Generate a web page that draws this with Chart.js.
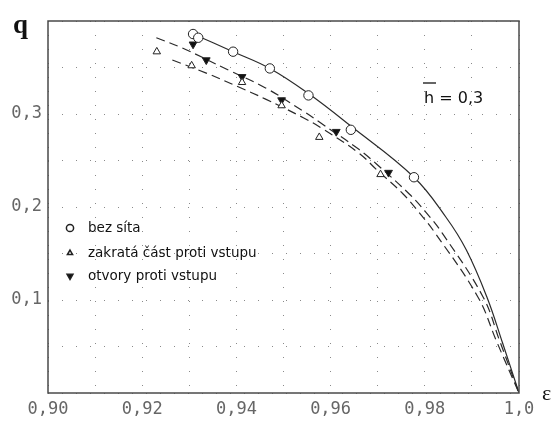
<!DOCTYPE html>
<html>
<head>
<meta charset="utf-8">
<script src="https://cdn.jsdelivr.net/npm/chart.js@4.4.1/dist/chart.umd.min.js"></script>
<style>
  html, body { margin: 0; padding: 0; background: #fff; }
</style>
</head>
<body>
<canvas id="chart" width="557" height="421"></canvas>
<script>
// values: eps on x, q on y

// measured points
const bezSitaEps = [0.9308, 0.9319, 0.9393, 0.9471, 0.9553, 0.9643, 0.9777]
const bezSitaQ = [0.386, 0.382, 0.367, 0.349, 0.320, 0.283, 0.232]

const zakrataEps = [0.9231, 0.9305, 0.9412, 0.9496, 0.9576, 0.9706]
const zakrataQ = [0.367, 0.352, 0.334, 0.309, 0.275, 0.235]

const otvoryEps = [0.9308, 0.9336, 0.9412, 0.9496, 0.9612, 0.9723]
const otvoryQ = [0.375, 0.358, 0.340, 0.315, 0.281, 0.237]

// fitted curves (traced)
const solidEps = [0.9308, 0.9393, 0.9471, 0.9553, 0.9643, 0.9777, 0.9845, 0.9888, 0.9932, 0.9965, 1.0]
const solidQ = [0.386, 0.367, 0.349, 0.322, 0.287, 0.232, 0.189, 0.154, 0.103, 0.054, 0]

const dashAEps = [0.9230, 0.9285, 0.9384, 0.9462, 0.9542, 0.9580, 0.9660, 0.9698, 0.9767, 0.9803, 0.9837, 0.9924, 0.9959, 1.0]
const dashAQ = [0.382, 0.371, 0.347, 0.328, 0.303, 0.290, 0.262, 0.246, 0.214, 0.194, 0.172, 0.103, 0.056, 0]

const dashBEps = [0.9264, 0.9336, 0.9405, 0.9462, 0.9542, 0.9580, 0.9660, 0.9698, 0.9754, 0.9788, 0.9822, 0.9913, 0.9952, 1.0]
const dashBQ = [0.358, 0.344, 0.329, 0.316, 0.296, 0.285, 0.258, 0.240, 0.214, 0.194, 0.172, 0.103, 0.056, 0]

// ticks and texts
const xTickValues = [0.90, 0.92, 0.94, 0.96, 0.98, 1.0]
const xTickLabels = ['0,90', '0,92', '0,94', '0,96', '0,98', '1,0']
const yTickValues = [0.1, 0.2, 0.3]
const yTickLabels = ['0,1', '0,2', '0,3']
const legendLabels = ['bez síta', 'zakratá část proti vstupu', 'otvory proti vstupu']
const paramText = 'h = 0,3'

const zip = (xs, ys) => xs.map((x, i) => ({ x, y: ys[i] }))

function tickLabel(value, values, labels) {
  const i = values.findIndex(v => Math.abs(v - value) < 1e-6)
  return i >= 0 ? labels[i] : ''
}

const markers = [
  { pointStyle: 'circle', rotation: 0, radius: 4.7, fill: '#fff', legendRadius: 3.6 },
  { pointStyle: 'triangle', rotation: 0, radius: 4.3, fill: '#fff', legendRadius: 3 },
  { pointStyle: 'triangle', rotation: 180, radius: 4.5, fill: '#111', legendRadius: 3.4 }
]

// frame, axis symbols, in-plot legend and parameter note
const extras = {
  id: 'extras',
  afterDraw(chart) {
    const { ctx, chartArea: a } = chart
    ctx.save()
    ctx.strokeStyle = '#4a4a4a'
    ctx.lineWidth = 1.5
    ctx.strokeRect(a.left, a.top, a.right - a.left, a.bottom - a.top)

    ctx.fillStyle = '#111'
    ctx.textBaseline = 'alphabetic'
    ctx.font = 'bold 27px "Liberation Serif"'
    ctx.fillText('q', 13, 33)
    ctx.font = '22px "Liberation Serif"'
    ctx.fillText('ε', 542, 400)

    // legend
    const rows = [207, 232, 255]
    ctx.font = '13.5px "DejaVu Sans"'
    ctx.textBaseline = 'middle'
    legendLabels.forEach((label, i) => {
      const m = markers[i]
      const cy = a.top + rows[i]
      ctx.fillStyle = m.fill
      ctx.strokeStyle = '#222'
      Chart.helpers.drawPoint(ctx, {
        pointStyle: m.pointStyle, rotation: m.rotation,
        radius: m.legendRadius, borderWidth: 1
      }, a.left + 22, cy)
      ctx.fillStyle = '#111'
      ctx.fillText(label, a.left + 40, cy)
    })

    // h-bar note
    ctx.font = '16px "DejaVu Sans"'
    ctx.textBaseline = 'alphabetic'
    ctx.fillStyle = '#111'
    const tx = a.left + 376, ty = a.top + 82
    ctx.fillText(paramText, tx, ty)
    ctx.strokeStyle = '#111'
    ctx.lineWidth = 1.3
    ctx.beginPath()
    ctx.moveTo(tx - 1, ty - 20)
    ctx.lineTo(tx + 12, ty - 20)
    ctx.stroke()
    ctx.restore()
  }
}

const curve = (data, dash) => ({
  type: 'line',
  data,
  showLine: true,
  borderColor: '#2a2a2a',
  borderWidth: 1.2,
  borderDash: dash,
  pointRadius: 0,
  tension: 0.4,
  order: 2
})

const points = (data, m) => ({
  type: 'scatter',
  data,
  pointStyle: m.pointStyle,
  rotation: m.rotation,
  pointRadius: m.radius,
  pointBackgroundColor: m.fill,
  pointBorderColor: '#222',
  pointBorderWidth: 1,
  order: 1
})

new Chart(document.getElementById('chart'), {
  type: 'scatter',
  data: {
    datasets: [
      curve(zip(solidEps, solidQ), []),
      curve(zip(dashAEps, dashAQ), [9, 5]),
      curve(zip(dashBEps, dashBQ), [9, 5]),
      points(zip(bezSitaEps, bezSitaQ), markers[0]),
      points(zip(zakrataEps, zakrataQ), markers[1]),
      points(zip(otvoryEps, otvoryQ), markers[2])
    ]
  },
  options: {
    responsive: false,
    animation: false,
    layout: { padding: { left: 0, top: 21, right: 38, bottom: 0 } },
    plugins: {
      legend: { display: false },
      tooltip: { enabled: false }
    },
    scales: {
      x: {
        type: 'linear',
        min: 0.9,
        max: 1.0,
        afterFit: s => { s.height = 28 },
        ticks: {
          stepSize: 0.01,
          autoSkip: false,
          maxRotation: 0,
          padding: 6,
          color: '#666',
          font: { family: '"DejaVu Sans Mono"', size: 17 },
          callback: v => tickLabel(v, xTickValues, xTickLabels)
        },
        grid: { color: '#8a8a8a', lineWidth: 1, drawTicks: false },
        border: { display: false, dash: [1, 13] }
      },
      y: {
        type: 'linear',
        min: 0,
        max: 0.4,
        afterFit: s => { s.width = 48 },
        ticks: {
          stepSize: 0.05,
          autoSkip: false,
          padding: 6,
          color: '#666',
          font: { family: '"DejaVu Sans Mono"', size: 17 },
          callback: v => tickLabel(v, yTickValues, yTickLabels)
        },
        grid: { color: '#8a8a8a', lineWidth: 1, drawTicks: false },
        border: { display: false, dash: [1, 13] }
      }
    }
  },
  plugins: [extras]
})
</script>
</body>
</html>
